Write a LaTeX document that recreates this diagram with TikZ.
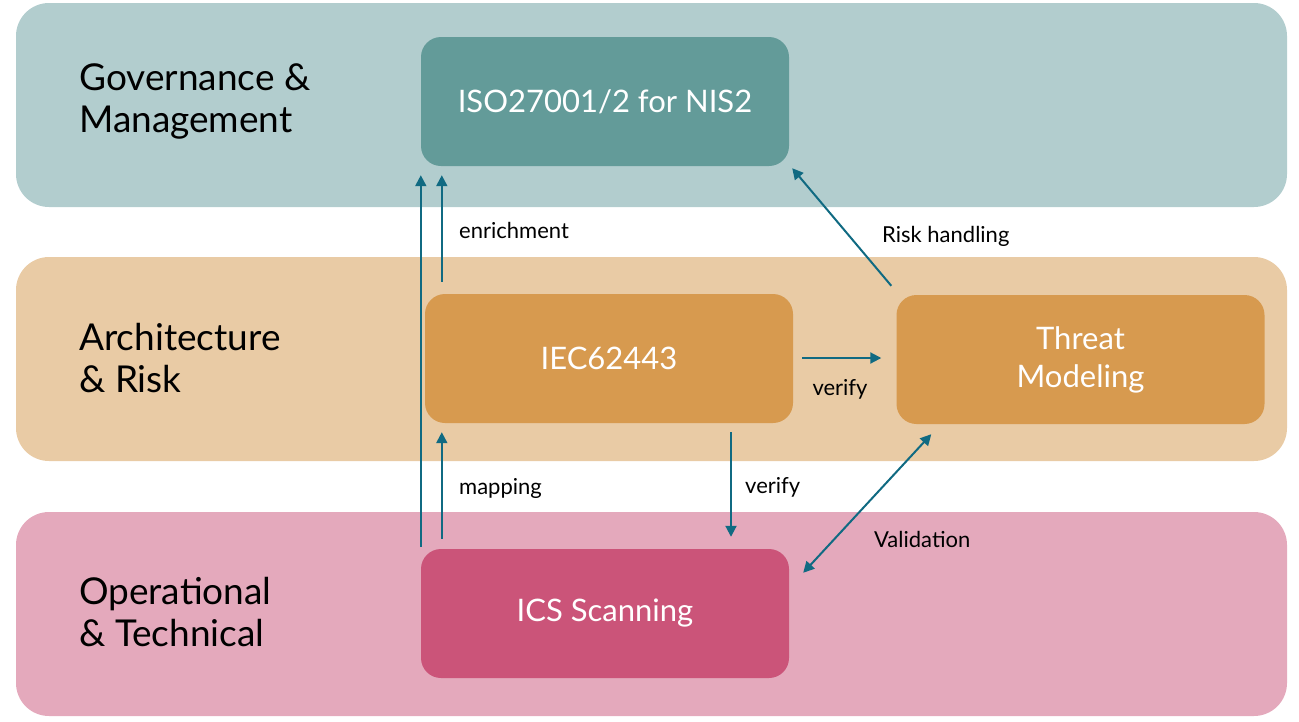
\documentclass[tikz,border=0pt]{standalone}
\usepackage{fontspec}
\setmainfont{Lato}
\usetikzlibrary{arrows.meta}

\definecolor{govband}{HTML}{B2CDCE}
\definecolor{archband}{HTML}{E9CBA5}
\definecolor{opband}{HTML}{E4A9BC}
\definecolor{govbox}{HTML}{639B99}
\definecolor{archbox}{HTML}{D79A4F}
\definecolor{opbox}{HTML}{CB5479}
\definecolor{flowcol}{HTML}{106A82}

\tikzset{
  band/.style={rounded corners=33pt, minimum width=1271pt, minimum height=204pt, inner sep=0pt},
  stdbox/.style={rounded corners=20pt, minimum width=368pt, minimum height=129pt, inner sep=0pt,
    text=white, align=center, font=\fontsize{31}{38}\selectfont},
  bandlabel/.style={anchor=west, align=left, inner sep=0pt, font=\fontsize{37}{42}\selectfont},
  flowlabel/.style={inner sep=0pt, font=\fontsize{22}{26}\selectfont},
  flow/.style={draw=flowcol, line width=2pt, -{Triangle[length=11pt,width=11pt]}},
}

\begin{document}
\begin{tikzpicture}[x=1pt,y=-1pt]
	\useasboundingbox (0,0) rectangle (1299,721);
	% bands
	\node[band, fill=govband] (gov) at (651.5,105) {};
	\node[band, fill=archband] (arch) at (651.5,359) {};
	\node[band, fill=opband] (op) at (651.5,614) {};
	\node[bandlabel] (govlabel) at (79,101) {Governance \&\\Management};
	\node[bandlabel] (archlabel) at (79,358) {Architecture\\\& Risk};
	\node[bandlabel] (oplabel) at (79,612) {Operational\\\& Technical};

	% standards
	\node[stdbox, fill=govbox] (iso) at (605,101.5) {ISO27001/2 for NIS2};
	\node[stdbox, fill=archbox] (iec) at (609,358.5) {IEC62443};
	\node[stdbox, fill=archbox] (threat) at (1080.5,359.5) {Threat\\Modeling};
	\node[stdbox, fill=opbox] (ics) at (605,613.5) {ICS Scanning};

	% connectors
	\draw[flow] ([yshift=2pt]ics.north west) -- ([yshift=-9pt]iso.south west);
	\draw[flow] ([xshift=17pt,yshift=12pt]iec.north west) -- ([xshift=21pt,yshift=-9pt]iso.south west);
	\draw[flow] ([xshift=21pt,yshift=10pt]ics.north west) -- ([xshift=17pt,yshift=-9pt]iec.south west);
	\draw[flow] ([xshift=122pt,yshift=-9pt]iec.south) -- ([xshift=126pt,yshift=12pt]ics.north);
	\draw[flow] ([xshift=9pt,yshift=0.5pt]iec.east) -- ([xshift=-15pt,yshift=1.5pt]threat.west);
	\draw[flow] ([xshift=-5pt,yshift=9pt]threat.north west) -- ([xshift=3pt,yshift=-2pt]iso.south east);
	\draw[flow, {Triangle[length=11pt,width=11pt]}-{Triangle[length=11pt,width=11pt]}]
		([xshift=35pt,yshift=-10pt]threat.south west) -- ([xshift=14pt,yshift=-24pt]ics.north east);

	% connector labels
	\node[flowlabel, anchor=west] (enrichlabel) at (459,230) {enrichment};
	\node[flowlabel, anchor=west] (risklabel) at (882,236) {Risk handling};
	\node[flowlabel] (verifyright) at (840,389) {verify};
	\node[flowlabel, anchor=west] (verifydown) at (745,487) {verify};
	\node[flowlabel, anchor=west] (maplabel) at (459,488) {mapping};
	\node[flowlabel, anchor=west] (validlabel) at (874,539) {Validation};
\end{tikzpicture}
\end{document}
